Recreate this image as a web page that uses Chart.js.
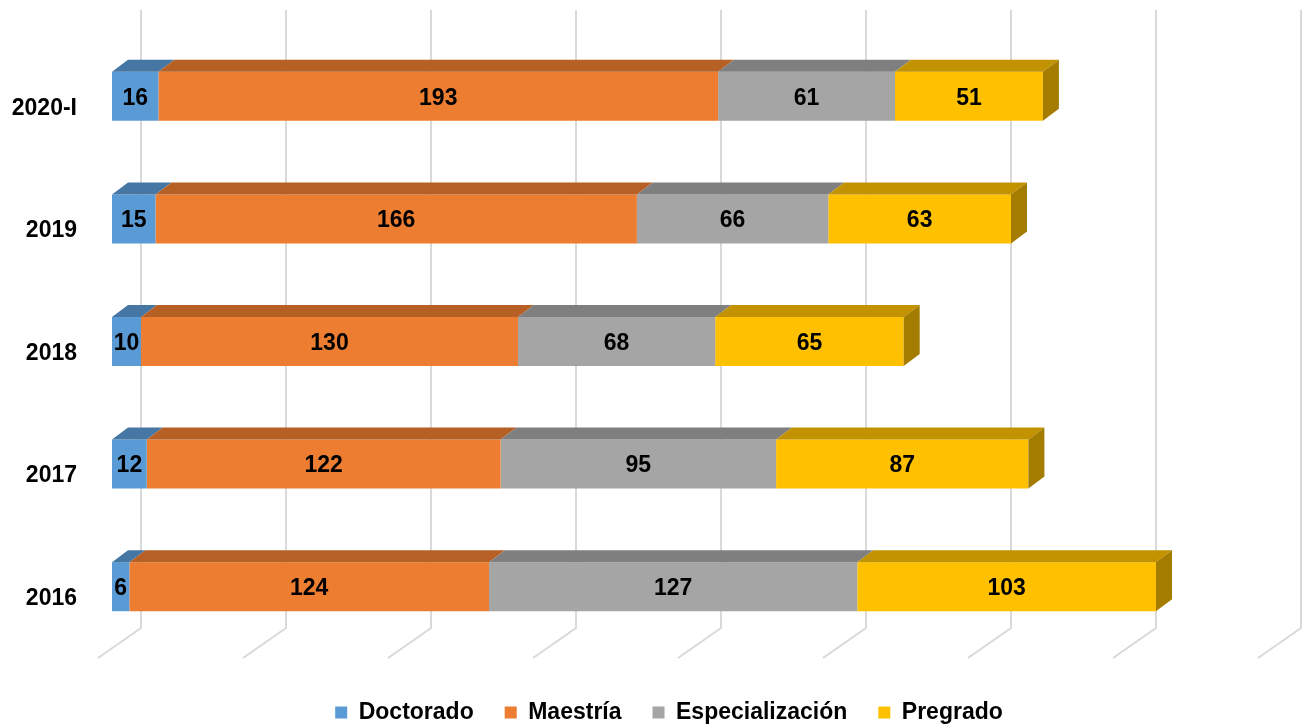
<!DOCTYPE html>
<html>
<head>
<meta charset="utf-8">
<script src="https://cdn.jsdelivr.net/npm/chart.js@4.4.1/dist/chart.umd.min.js"></script>
<style>
  html, body { margin: 0; padding: 0; background: #ffffff; }
  #wrap { width: 1302px; height: 728px; }
</style>
</head>
<body>
<div id="wrap"><canvas id="c" width="1302" height="728"></canvas></div>
<script>
const categories = ['2020-I', '2019', '2018', '2017', '2016'];
const doctorado = [16, 15, 10, 12, 6];
const maestria = [193, 166, 130, 122, 124];
const especializacion = [61, 66, 68, 95, 127];
const pregrado = [51, 63, 65, 87, 103];
const seriesNames = ['Doctorado', 'Maestría', 'Especialización', 'Pregrado'];
const gridTicks = [0, 50, 100, 150, 200, 250, 300, 350, 400];

const frontColors = ['#5B9BD5', '#ED7D31', '#A5A5A5', '#FFC000'];
const topColors = ['#4677A4', '#B66025', '#7F7F7F', '#C29200'];
const sideColors = ['#3C6690', '#9E5320', '#6E6E6E', '#A47C00'];

const DX = 16, DY = 12;
const LEGEND_SHIFT = 33;
const FONT = '"Liberation Sans", Arial, sans-serif';

const threeD = {
  id: 'threeD',
  afterLayout(chart) {
    if (chart.legend) {
      chart.legend.left += LEGEND_SHIFT;
      chart.legend.right += LEGEND_SHIFT;
    }
  },
  beforeDatasetsDraw(chart) {
    const ctx = chart.ctx;
    const xs = chart.scales.x;
    const area = chart.chartArea;
    const wallTop = area.top - 25;
    const floorBack = area.bottom - 20;
    const floorFront = area.bottom + 10;
    ctx.save();
    ctx.strokeStyle = '#D9D9D9';
    ctx.lineWidth = 2;
    gridTicks.forEach(v => {
      const p = xs.getPixelForValue(v);
      ctx.beginPath();
      ctx.moveTo(p + 29, wallTop);
      ctx.lineTo(p + 29, floorBack);
      ctx.lineTo(p - 14, floorFront);
      ctx.stroke();
    });
    ctx.restore();
  },
  afterDatasetsDraw(chart) {
    const ctx = chart.ctx;
    const n = chart.data.datasets.length;
    ctx.save();
    for (let d = 0; d < n; d++) {
      const meta = chart.getDatasetMeta(d);
      meta.data.forEach(el => {
        const {x, y, base, height} = el.getProps(['x', 'y', 'base', 'height'], true);
        const top = y - height / 2, bottom = y + height / 2;
        ctx.fillStyle = topColors[d];
        ctx.beginPath();
        ctx.moveTo(base, top);
        ctx.lineTo(x, top);
        ctx.lineTo(x + DX, top - DY);
        ctx.lineTo(base + DX, top - DY);
        ctx.closePath();
        ctx.fill();
        if (d === n - 1) {
          ctx.fillStyle = sideColors[d];
          ctx.beginPath();
          ctx.moveTo(x, top);
          ctx.lineTo(x + DX, top - DY);
          ctx.lineTo(x + DX, bottom - DY);
          ctx.lineTo(x, bottom);
          ctx.closePath();
          ctx.fill();
        }
      });
    }
    ctx.fillStyle = '#000000';
    ctx.font = 'bold 23px ' + FONT;
    ctx.textAlign = 'center';
    ctx.textBaseline = 'middle';
    for (let d = 0; d < n; d++) {
      const meta = chart.getDatasetMeta(d);
      const vals = chart.data.datasets[d].data;
      meta.data.forEach((el, i) => {
        const {x, y, base} = el.getProps(['x', 'y', 'base'], true);
        ctx.fillText(String(vals[i]), (x + base) / 2, y + 2);
      });
    }
    ctx.restore();
  }
};

const seriesData = [doctorado, maestria, especializacion, pregrado];

new Chart(document.getElementById('c'), {
  type: 'bar',
  data: {
    labels: categories,
    datasets: seriesNames.map((name, i) => ({
      label: name,
      data: seriesData[i],
      backgroundColor: frontColors[i],
      borderWidth: 0,
      categoryPercentage: 1,
      barPercentage: 0.4
    }))
  },
  options: {
    indexAxis: 'y',
    responsive: false,
    animation: false,
    devicePixelRatio: 1,
    layout: { padding: { top: 35, right: 30, bottom: -6, left: 0 } },
    scales: {
      x: {
        stacked: true,
        min: 0,
        max: 400,
        ticks: { display: false, stepSize: 50 },
        grid: { display: false },
        border: { display: false },
        afterFit(s) { s.height = 22; }
      },
      y: {
        stacked: true,
        grid: { display: false },
        border: { display: false },
        ticks: {
          color: '#000000',
          font: { family: FONT, size: 23, weight: 'bold' },
          padding: 27,
          labelOffset: 12
        },
        afterFit(s) { s.width = 112; s.paddingTop = 0; s.paddingBottom = 0; }
      }
    },
    plugins: {
      legend: {
        position: 'bottom',
        labels: {
          color: '#000000',
          font: { family: FONT, size: 23, weight: 'bold' },
          boxWidth: 12,
          boxHeight: 12,
          padding: 31
        }
      },
      tooltip: { enabled: false }
    }
  },
  plugins: [threeD]
});
</script>
</body>
</html>
